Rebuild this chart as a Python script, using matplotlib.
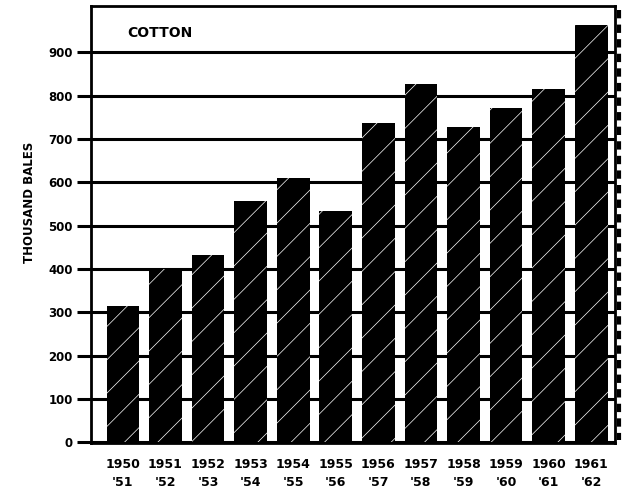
import matplotlib
matplotlib.use("Agg")
import matplotlib.pyplot as plt
from matplotlib.lines import Line2D

years = ["1950", "1951", "1952", "1953", "1954", "1955", "1956", "1957", "1958", "1959", "1960", "1961"]
years2 = ["'51", "'52", "'53", "'54", "'55", "'56", "'57", "'58", "'59", "'60", "'61", "'62"]
values = [315, 400, 432, 556, 610, 533, 737, 827, 728, 772, 815, 963]
yticks = [0, 100, 200, 300, 400, 500, 600, 700, 800, 900]

plt.rcParams['hatch.linewidth'] = 0.5
plt.rcParams['hatch.color'] = 'white'

fig = plt.figure(figsize=(6.24, 4.98), dpi=100)
ax = fig.add_axes([91/624, 1-443/498, (615-91)/624, (443-6)/498])

x = list(range(len(years)))
ax.bar(x, values, width=0.77, color='black', edgecolor='white', linewidth=0, hatch='/', zorder=3)

ax.set_xlim(-0.75, 11.56)
ax.set_ylim(-2, 1007)
ax.set_yticks(yticks)
ax.set_yticklabels([str(v) for v in yticks], fontsize=8.5, fontweight='bold')
ax.yaxis.grid(True, color='black', linewidth=2.2, zorder=1)
ax.tick_params(axis='y', length=10, width=2.2, pad=3)
ax.set_xticks(x)
ax.set_xticklabels([f"{a}\n{b}" for a, b in zip(years, years2)], fontsize=9, fontweight='bold', linespacing=1.45)
ax.tick_params(axis='x', length=0, pad=11)
for s in ax.spines.values():
    s.set_linewidth(2.0)
ax.set_ylabel("THOUSAND BALES", fontsize=8.5, fontweight='bold')
ax.yaxis.set_label_coords(-0.105, 0.55)
ax.text(0.07, 0.955, "COTTON", transform=ax.transAxes, fontsize=10, fontweight='bold', va='top', ha='left')

fig.add_artist(Line2D([619/624, 619/624], [1-10/498, 1-440/498], transform=fig.transFigure,
                      color='black', linewidth=3, linestyle=(0, (2, 1.5))))

fig.savefig("out.png", dpi=100)
